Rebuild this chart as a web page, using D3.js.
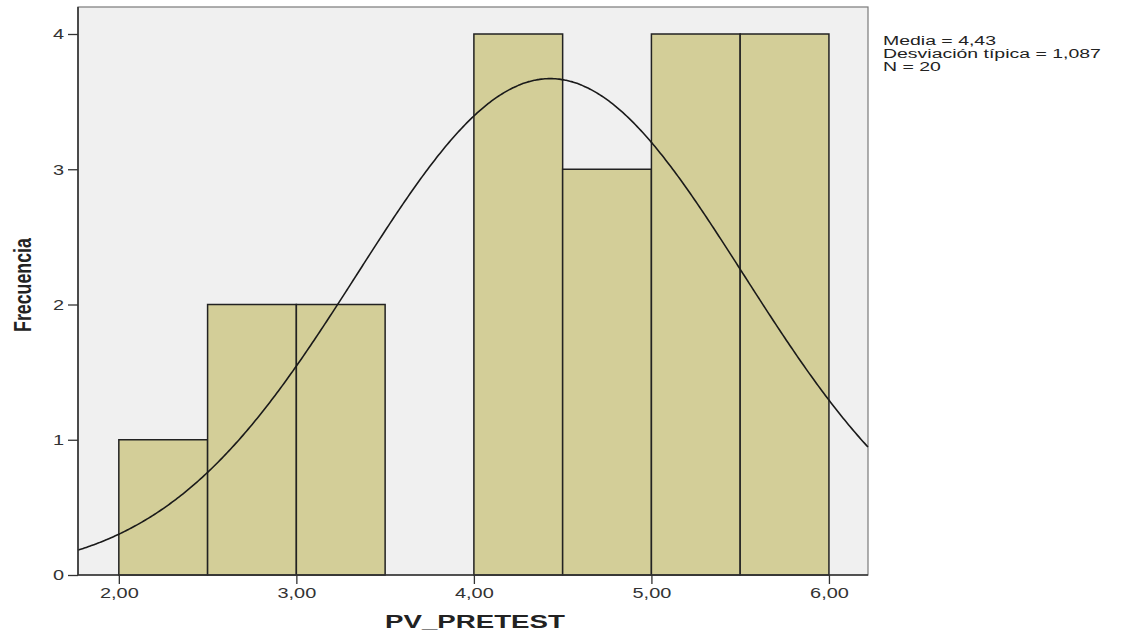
<!DOCTYPE html>
<html>
<head>
<meta charset="utf-8">
<script src="https://cdn.jsdelivr.net/npm/d3@7"></script>
<style>
  html, body { margin: 0; padding: 0; background: #ffffff; }
  svg { display: block; }
</style>
</head>
<body>
<svg id="chart" width="1124" height="636"></svg>
<script>
// Histogram bins of PV_PRETEST (bin width 0.5) and their frequencies
const binStarts = [2.0, 2.5, 3.0, 3.5, 4.0, 4.5, 5.0, 5.5];
const binCounts = [1, 2, 2, 0, 4, 3, 4, 4];
const binWidth = 0.5;

// Summary statistics shown beside the plot
const mean = 4.43;
const stdDev = 1.087;
const n = 20;
const statLines = ["Media = 4,43", "Desviación típica = 1,087", "N = 20"];

// Axis ticks
const xTicks = [2, 3, 4, 5, 6];
const yTicks = [0, 1, 2, 3, 4];

const FONT = "Arial, 'Liberation Sans', sans-serif";
const svg = d3.select("#chart");
const plot = { left: 78, right: 868, top: 7, bottom: 575 };

const x = d3.scaleLinear().domain([1.77, 6.22]).range([plot.left, plot.right]);
const y = d3.scaleLinear().domain([0, 4]).range([plot.bottom, 34]);

// Horizontal stretch applied to the wide-set labels
const stretch = 1.33;

// Plot background
svg.append("rect")
  .attr("x", plot.left).attr("y", plot.top)
  .attr("width", plot.right - plot.left).attr("height", plot.bottom - plot.top)
  .attr("fill", "#f0f0f0")
  .attr("stroke", "#7a7a7a").attr("stroke-width", 1.2);

// Bars
const bins = binStarts.map((s, i) => ({ x0: s, x1: s + binWidth, count: binCounts[i] }))
  .filter(d => d.count > 0);
svg.append("g").selectAll("rect").data(bins).join("rect")
  .attr("x", d => x(d.x0))
  .attr("y", d => y(d.count))
  .attr("width", d => x(d.x1) - x(d.x0))
  .attr("height", d => y(0) - y(d.count))
  .attr("fill", "#d3ce98")
  .attr("stroke", "#222")
  .attr("stroke-width", 1.5);

// Fitted normal curve scaled to counts: n * binWidth * pdf
const pdf = v => Math.exp(-0.5 * ((v - mean) / stdDev) ** 2) / (stdDev * Math.sqrt(2 * Math.PI));
const curvePts = d3.range(x.domain()[0], x.domain()[1] + 0.001, 0.01).map(v => [v, n * binWidth * pdf(v)]);
svg.append("path")
  .datum(curvePts)
  .attr("fill", "none")
  .attr("stroke", "#1a1a1a")
  .attr("stroke-width", 1.6)
  .attr("d", d3.line().x(d => x(d[0])).y(d => y(d[1])).curve(d3.curveBasis));

// Axes
const xAxis = svg.append("g")
  .attr("transform", `translate(0,${plot.bottom})`)
  .call(d3.axisBottom(x).tickValues(xTicks).tickSize(9).tickPadding(3)
    .tickFormat(d => d3.format(".2f")(d).replace(".", ",")));
const yAxis = svg.append("g")
  .attr("transform", `translate(${plot.left},0)`)
  .call(d3.axisLeft(y).tickValues(yTicks).tickSize(10).tickPadding(4).tickFormat(d3.format("d")));

[xAxis, yAxis].forEach(g => {
  g.select(".domain").attr("stroke", "#333").attr("stroke-width", 1.6);
  g.selectAll(".tick line").attr("stroke", "#333").attr("stroke-width", 1.3);
  g.selectAll(".tick text")
    .attr("fill", "#333")
    .style("font-family", FONT)
    .style("font-size", "15px");
});
xAxis.select(".domain").attr("d", `M${plot.left},0H${plot.right}`);
yAxis.select(".domain").attr("d", `M0,${plot.bottom}V${plot.top}`);
xAxis.selectAll(".tick text").attr("transform", `scale(${stretch},1)`);
yAxis.selectAll(".tick text")
  .attr("x", 0)
  .attr("transform", `translate(-14,0) scale(${stretch},1)`);

// Scale a text element along its own baseline so that it spans the given length
function fitLength(sel, target) {
  const len = sel.node().getComputedTextLength();
  return target / len;
}

// Axis titles
const xTitle = svg.append("text")
  .attr("text-anchor", "middle")
  .style("font-family", FONT)
  .style("font-size", "17.5px").style("font-weight", "bold")
  .attr("fill", "#222")
  .text("PV_PRETEST");
xTitle.attr("transform", `translate(475,628) scale(${fitLength(xTitle, 180)},1)`);

const yTitle = svg.append("text")
  .attr("text-anchor", "middle")
  .style("font-family", FONT)
  .style("font-size", "23px").style("font-weight", "bold")
  .attr("fill", "#222")
  .text("Frecuencia");
yTitle.attr("transform", `translate(31,285) rotate(-90) scale(${fitLength(yTitle, 94)},1)`);

// Statistics block
const stats = svg.append("g").selectAll("text").data(statLines).join("text")
  .attr("x", 0).attr("y", 0)
  .style("font-family", FONT)
  .style("font-size", "12.5px")
  .attr("fill", "#222")
  .text(d => d);
const statScale = fitLength(stats.filter((d, i) => i === 1), 218);
stats.attr("transform", (d, i) => `translate(883,${45 + i * 13}) scale(${statScale},1)`);
</script>
</body>
</html>
